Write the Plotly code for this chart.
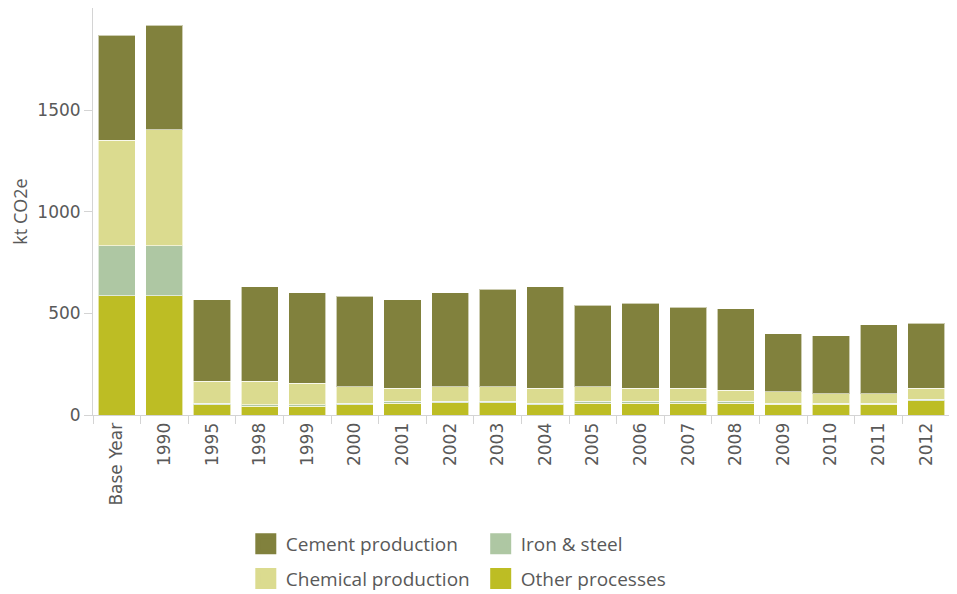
import plotly.graph_objects as go

categories = ["Base Year", "1990", "1995", "1998", "1999", "2000", "2001", "2002", "2003",
              "2004", "2005", "2006", "2007", "2008", "2009", "2010", "2011", "2012"]

other_processes = [586, 586, 51, 44, 44, 51, 59, 60, 60, 51, 59, 59, 59, 59, 53, 53, 53, 69]
iron_steel = [246, 246, 7, 7, 7, 8, 8, 7, 7, 8, 8, 8, 8, 8, 6, 6, 6, 8]
chemical_production = [520, 571, 107, 115, 105, 80, 64, 72, 72, 72, 72, 64, 64, 56, 56, 46, 46, 54]
cement_production = [516, 516, 402, 464, 446, 445, 435, 463, 481, 499, 401, 419, 400, 399, 284, 284, 338, 320]

colors = {
    "Cement production": "#81813d",
    "Chemical production": "#dbdb8f",
    "Iron & steel": "#aec7a3",
    "Other processes": "#bdbd24",
}

series = [
    ("Other processes", other_processes, "legend2", 2),
    ("Iron & steel", iron_steel, "legend2", 1),
    ("Chemical production", chemical_production, "legend", 2),
    ("Cement production", cement_production, "legend", 1),
]

fig = go.Figure()
for name, vals, leg, rank in series:
    fig.add_trace(go.Bar(
        x=categories, y=vals, name=name,
        marker=dict(color=colors[name], line=dict(color="rgba(255,255,255,0.6)", width=1)),
        legendgroup=name, showlegend=False,
    ))
    # legend-only entry with a larger square swatch
    fig.add_trace(go.Scatter(
        x=[None], y=[None], mode="markers", name=name,
        marker=dict(symbol="square", size=26, color=colors[name],
                    line=dict(color=colors[name], width=6)),
        legend=leg, legendrank=rank, legendgroup=name, hoverinfo="skip",
    ))

axis_col = "#d4d4d4"
tick_font = dict(family="DejaVu Sans", size=17, color="#595959")
leg_font = dict(family="Open Sans", size=19, color="#595959")
fig.update_layout(
    barmode="stack",
    bargap=0.22,
    width=949, height=586,
    margin=dict(l=85, r=7, t=0, b=179, autoexpand=False),
    paper_bgcolor="white", plot_bgcolor="white",
    font=dict(family="Open Sans", color="#595959"),
    xaxis=dict(
        type="category", categoryorder="array", categoryarray=categories,
        showline=True, linecolor=axis_col, mirror=True,
        ticks="outside", tickson="boundaries", ticklen=8, tickcolor=axis_col,
        tickangle=-90, tickfont=tick_font, showgrid=False, automargin=False,
    ),
    yaxis=dict(
        range=[0, 2003], tickvals=[0, 500, 1000, 1500], showline=True, linecolor=axis_col,
        mirror=True, ticks="outside", ticklen=8, tickcolor=axis_col, tickfont=tick_font,
        showgrid=False, zeroline=False, automargin=False,
        title=dict(text="kt CO2e", font=dict(family="Open Sans", size=18, color="#595959"), standoff=9),
    ),
    legend=dict(
        x=0.1783, y=-0.2703, xanchor="left", yanchor="top",
        orientation="v", font=leg_font, traceorder="grouped", tracegroupgap=7,
        itemwidth=30, bgcolor="rgba(0,0,0,0)",
    ),
    legend2=dict(
        x=0.4524, y=-0.2703, xanchor="left", yanchor="top",
        orientation="v", font=leg_font, traceorder="grouped", tracegroupgap=7,
        itemwidth=30, bgcolor="rgba(0,0,0,0)",
    ),
)

fig.write_html("out.html")
